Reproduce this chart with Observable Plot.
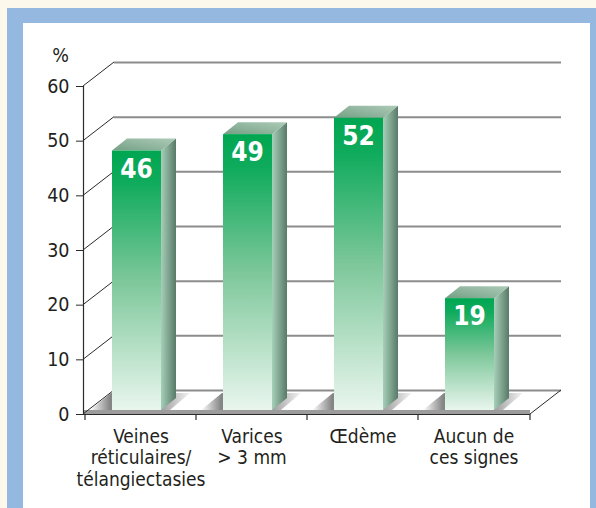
<!DOCTYPE html>
<html>
<head>
<meta charset="utf-8">
<script src="https://cdn.jsdelivr.net/npm/d3@7"></script>
<script src="https://cdn.jsdelivr.net/npm/@observablehq/plot@0.6"></script>
<style>
  html, body { margin: 0; padding: 0; }
  body { width: 596px; height: 508px; background: #fcf9ec; position: relative; overflow: hidden; }
  #frame { position: absolute; left: 7px; top: 8px; width: 589px; height: 500px; background: #95b8e1; }
  #panel { position: absolute; left: 23px; top: 23px; width: 567px; height: 485px; background: #ffffff; }
  #chart { position: absolute; left: 0; top: 0; }
  #chart svg { background: transparent !important; }
</style>
</head>
<body>
<div id="frame"></div>
<div id="panel"></div>
<svg width="0" height="0" style="position:absolute">
  <defs>
    <linearGradient id="gFront" x1="0" y1="0" x2="0" y2="1">
      <stop offset="0" stop-color="#00a651"/>
      <stop offset="0.12" stop-color="#0fab5c"/>
      <stop offset="0.5" stop-color="#7dc79a"/>
      <stop offset="1" stop-color="#e9f6ee"/>
    </linearGradient>
    <linearGradient id="gSide" x1="0" y1="0" x2="1" y2="0">
      <stop offset="0" stop-color="#a6cfb8"/>
      <stop offset="1" stop-color="#587a68"/>
    </linearGradient>
    <linearGradient id="gTop" x1="0" y1="1" x2="1" y2="0">
      <stop offset="0" stop-color="#74a085"/>
      <stop offset="1" stop-color="#adcbb8"/>
    </linearGradient>
    <linearGradient id="gShadow" x1="0" y1="0" x2="1" y2="0">
      <stop offset="0" stop-color="#ffffff"/>
      <stop offset="0.2" stop-color="#858585"/>
      <stop offset="0.7" stop-color="#9a9a9a"/>
      <stop offset="1" stop-color="#f4f4f4"/>
    </linearGradient>
  </defs>
</svg>
<div id="chart"></div>
<script>
// ---- data ----
const categories = ["Veines réticulaires/télangiectasies", "Varices > 3 mm", "Œdème", "Aucun de ces signes"];
const categoryLabels = ["Veines\nréticulaires/\ntélangiectasies", "Varices\n> 3 mm", "Œdème", "Aucun de\nces signes"];
const values = [46, 49, 52, 19];
const yTicks = [0, 10, 20, 30, 40, 50, 60];
const yUnit = "%";

// ---- style constants ----
const FONT = "'Liberation Sans Narrow', 'DejaVu Sans Condensed', 'Arial Narrow', 'Roboto Condensed', sans-serif";
const INK = "#231f20";
const BACK_DX = 31, BACK_DY = -24;   // depth of the chart box
const BAR_DX = 15, BAR_DY = -12;     // depth of a bar

const table = categories.map((c, i) => ({category: c, label: categoryLabels[i], value: values[i]}));

function bandInfo(x, c) {
  const bw = typeof x.bandwidth === "function" ? x.bandwidth() : x.bandwidth;
  return {x0: x(c), bw};
}

// diagonals (left wall edges) + x-axis tick marks + floor strip
function boxMark(index, scales, values_, dimensions) {
  const {x, y} = scales;
  const g = d3.create("svg:g");
  const left = dimensions.marginLeft;
  const right = dimensions.width - dimensions.marginRight;
  const y0 = y(0);
  g.append("rect").attr("x", left).attr("y", y0 - 4).attr("width", right - left).attr("height", 4)
    .attr("fill", "#9c9c9c");
  for (const t of yTicks) {
    g.append("line").attr("x1", left).attr("y1", y(t)).attr("x2", left + BACK_DX).attr("y2", y(t) + BACK_DY)
      .attr("stroke", "#2a2a2a").attr("stroke-width", 1);
  }
  g.append("line").attr("x1", right).attr("y1", y0).attr("x2", right + BACK_DX).attr("y2", y0 + BACK_DY)
    .attr("stroke", "#2a2a2a").attr("stroke-width", 1);
  const bounds = categories.map(c => bandInfo(x, c).x0);
  bounds.push(right);
  for (const b of bounds) {
    g.append("line").attr("x1", b).attr("x2", b).attr("y1", y0).attr("y2", y0 + 6)
      .attr("stroke", "#2a2a2a").attr("stroke-width", 1.2);
  }
  return g.node();
}

function shadowMark(index, scales) {
  const {x, y} = scales;
  const g = d3.create("svg:g");
  for (const d of table) {
    const {x0, bw} = bandInfo(x, d.category);
    const fl = x0 + 27, fr = x0 + bw - 35, yb = y(0) - 4;
    g.append("polygon")
      .attr("points", [[fl - 22, yb], [fr + 9, yb], [fr + 29, yb - 17], [fl - 1, yb - 17]].map(p => p.join(",")).join(" "))
      .attr("fill", "url(#gShadow)");
  }
  return g.node();
}

function barsMark(index, scales) {
  const {x, y} = scales;
  const g = d3.create("svg:g");
  for (const d of table) {
    const {x0, bw} = bandInfo(x, d.category);
    const fl = x0 + 27, fr = x0 + bw - 35;
    const yb = y(0) - 4, yt = y(d.value) - 12;
    g.append("polygon")
      .attr("points", [[fr, yt], [fr + BAR_DX, yt + BAR_DY], [fr + BAR_DX, yb + BAR_DY], [fr, yb]].map(p => p.join(",")).join(" "))
      .attr("fill", "url(#gSide)");
    g.append("polygon")
      .attr("points", [[fl, yt], [fl + BAR_DX, yt + BAR_DY], [fr + BAR_DX, yt + BAR_DY], [fr, yt]].map(p => p.join(",")).join(" "))
      .attr("fill", "url(#gTop)");
    g.append("rect").attr("x", fl).attr("y", yt).attr("width", fr - fl).attr("height", yb - yt)
      .attr("fill", "url(#gFront)");
    g.append("text").attr("x", (fl + fr) / 2).attr("y", yt + 27)
      .attr("text-anchor", "middle").attr("fill", "#ffffff")
      .attr("font-family", FONT).attr("font-weight", "bold").attr("font-size", 26)
      .text(d.value);
  }
  return g.node();
}

const chart = Plot.plot({
  width: 596,
  height: 508,
  marginLeft: 83,
  marginRight: 66,
  marginTop: 86,
  marginBottom: 94,
  style: {background: "transparent", fontFamily: FONT, color: INK},
  x: {type: "band", domain: categories, padding: 0, axis: null},
  y: {domain: [0, 60], axis: null},
  marks: [
    Plot.ruleY(yTicks, {dx: BACK_DX, dy: BACK_DY, stroke: "#8c8c8c", strokeWidth: 2}),
    boxMark,
    shadowMark,
    barsMark,
    Plot.ruleY([0], {stroke: "#2a2a2a", strokeWidth: 1.2}),
    Plot.frame({anchor: "left", stroke: "#2a2a2a", strokeWidth: 1.2}),
    Plot.axisY({ticks: yTicks, tickSize: 7, tickPadding: 7, fontSize: 19.5, label: null, stroke: "#2a2a2a", fill: INK}),
    Plot.text([yUnit], {frameAnchor: "top-left", dx: -23, dy: -25, textAnchor: "middle", lineAnchor: "bottom", fontSize: 19.5, fill: INK}),
    Plot.text(table, {x: "category", text: "label", frameAnchor: "bottom", lineAnchor: "top", dy: 13, lineHeight: 1.13, fontSize: 19, fill: INK})
  ]
});
document.getElementById("chart").appendChild(chart);
</script>
</body>
</html>
